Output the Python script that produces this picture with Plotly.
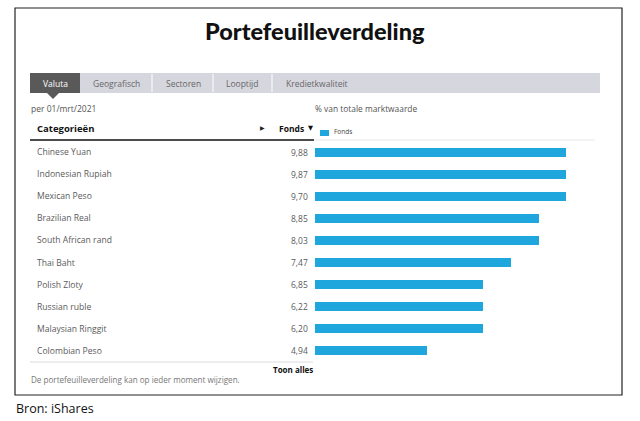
import numpy as np
import plotly.graph_objects as go

# ---- data ----
categories = ["Chinese Yuan", "Indonesian Rupiah", "Mexican Peso", "Brazilian Real",
              "South African rand", "Thai Baht", "Polish Zloty", "Russian ruble",
              "Malaysian Ringgit", "Colombian Peso"]
fonds = [9.88, 9.87, 9.70, 8.85, 8.03, 7.47, 6.85, 6.22, 6.20, 4.94]
tabs = ["Valuta", "Geografisch", "Sectoren", "Looptijd", "Kredietkwaliteit"]
title_text = "Portefeuilleverdeling"
date_text = "per 01/mrt/2021"
axis_note = "% van totale marktwaarde"
series_name = "Fonds"
footer_text = "De portefeuilleverdeling kan op ieder moment wijzigen."
source_text = "Bron: iShares"

# the source widget draws bars at whole-percent resolution
bar_lengths = np.floor(np.array(fonds))

W, H = 640, 421
BAR = "#1fa6dd"
FONT = "Open Sans"


def px(x):
    return x / W


def py(y):
    return 1 - y / H


fig = go.Figure()
fig.add_trace(go.Bar(
    x=bar_lengths, y=categories, orientation="h", marker_color=BAR,
    marker_line_width=0, width=0.41, name=series_name, showlegend=False,
    customdata=fonds, hovertemplate="%{y}: %{customdata:.2f}<extra></extra>"))

shapes = []
ann = []


def rect(x0, y0, x1, y1, fill, line=None, lw=0):
    shapes.append(dict(type="rect", xref="paper", yref="paper",
                       x0=px(x0), x1=px(x1), y0=py(y1), y1=py(y0),
                       fillcolor=fill, line=dict(color=line or fill, width=lw),
                       layer="below"))


def hline(x0, x1, y, color, w):
    shapes.append(dict(type="line", xref="paper", yref="paper",
                       x0=px(x0), x1=px(x1), y0=py(y), y1=py(y),
                       line=dict(color=color, width=w)))


def text(x, y, s, size=8, color="#555", bold=False, xanchor="left", family=FONT, weight=None):
    if bold:
        s = "<b>" + s + "</b>"
    f = dict(size=size, color=color, family=family)
    if weight:
        f["weight"] = weight
    ann.append(dict(x=px(x), y=py(y), xref="paper", yref="paper", text=s,
                    showarrow=False, xanchor=xanchor, yanchor="middle", font=f))


# frame
shapes.append(dict(type="rect", xref="paper", yref="paper",
                   x0=px(15), x1=px(622), y0=py(395), y1=py(8),
                   line=dict(color="#222", width=1.2), fillcolor="rgba(0,0,0,0)"))

# tabs
rect(30, 73, 600, 93, "#d6d6de")
rect(30, 73, 80, 93, "#595959")
shapes.append(dict(type="path", xref="paper", yref="paper",
                   path=f"M {px(47)},{py(93)} L {px(59)},{py(93)} L {px(53)},{py(99)} Z",
                   fillcolor="#595959", line=dict(width=0)))
for sx in [152, 213, 272]:
    shapes.append(dict(type="line", xref="paper", yref="paper",
                       x0=px(sx), x1=px(sx), y0=py(74), y1=py(92),
                       line=dict(color="#f2f2f5", width=1.5)))
tab_x = [55, 116, 183, 242, 284]
for i, (t, x) in enumerate(zip(tabs, tab_x)):
    if i == 0:
        text(x, 83, t, 8.5, "#ffffff", xanchor="center")
    elif i == len(tabs) - 1:
        text(x, 83, t, 8.5, "#666", xanchor="left")
    else:
        text(x, 83, t, 8.5, "#666", xanchor="center")

# title
text(315, 31, title_text, 23.5, "#111", xanchor="center", family="Lato", weight=900)

text(29, 109, date_text, 8.5, "#555")
text(313, 109, axis_note, 8.4, "#555")

# header
text(35, 128, "Categorieën", 9.5, "#111", bold=True)
text(262, 128, "▶", 6, "#222", xanchor="center")
text(306, 128, "Fonds", 8.5, "#111", bold=True, xanchor="right")
text(306, 128, "▼", 6.5, "#111", xanchor="left", family="DejaVu Sans")
rect(320, 130, 329, 136, BAR)
text(332, 132, series_name, 6.5, "#444")
hline(30, 314, 140, "#111", 1.5)
hline(314, 595, 140, "#e8e8e8", 1)
hline(30, 313, 362, "#dcdcdc", 1)

# rows
for c, v in zip(categories, fonds):
    ann.append(dict(x=px(35), y=c, xref="paper", yref="y", text=c, showarrow=False,
                    xanchor="left", yanchor="middle",
                    font=dict(size=8.6, color="#5a5a5a", family=FONT)))
    ann.append(dict(x=px(310), y=c, xref="paper", yref="y",
                    text=f"{v:.2f}".replace(".", ","), showarrow=False,
                    xanchor="right", yanchor="middle",
                    font=dict(size=8.5, color="#5a5a5a", family=FONT)))

text(315, 369, "Toon alles", 8, "#111", bold=True, xanchor="right")
text(29, 379, footer_text, 8.1, "#777")
text(14, 408, source_text, 12.5, "#111", family="Open Sans")

fig.update_layout(
    width=W, height=H, margin=dict(l=0, r=0, t=0, b=0),
    paper_bgcolor="white", plot_bgcolor="white",
    shapes=shapes, annotations=ann, showlegend=False, bargap=0,
    xaxis=dict(domain=[px(315), px(595)], range=[0, 280 / 27.94],
               showgrid=False, zeroline=False, showticklabels=False, fixedrange=True),
    yaxis=dict(domain=[py(362), py(141)], range=[len(categories) - 0.5, -0.5],
               type="category", showgrid=False, zeroline=False,
               showticklabels=False, fixedrange=True),
)

fig.write_html("out.html", config={"displayModeBar": False},
               post_script="document.body.style.margin='0';document.body.style.overflow='hidden';")
